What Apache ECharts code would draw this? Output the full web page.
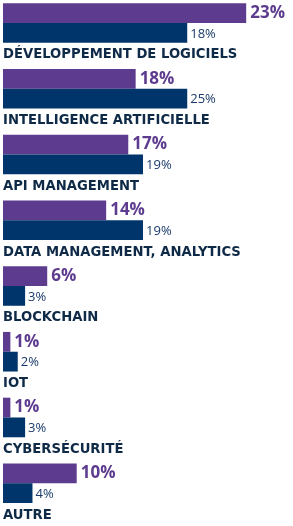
<!DOCTYPE html>
<html>
<head>
<meta charset="utf-8">
<script src="https://cdn.jsdelivr.net/npm/echarts@6/dist/echarts.min.js"></script>
<style>
html,body{margin:0;padding:0;background:#fff;}
#chart{width:293px;height:526px;}
</style>
</head>
<body>
<div id="chart"></div>
<script>
// Categories (top to bottom)
const categories = [
  "DÉVELOPPEMENT DE LOGICIELS",
  "INTELLIGENCE ARTIFICIELLE",
  "API MANAGEMENT",
  "DATA MANAGEMENT, ANALYTICS",
  "BLOCKCHAIN",
  "IOT",
  "CYBERSÉCURITÉ",
  "AUTRE"
];
// Printed percentages
const purpleLabels = [23, 18, 17, 14, 6, 1, 1, 10];
const darkLabels   = [18, 25, 19, 19, 3, 2, 3, 4];
// Bar lengths as drawn in the picture (first group is drawn longer than its label)
const purpleBars = [33, 18, 17, 14, 6, 1, 1, 10];
const darkBars   = [25, 25, 19, 19, 3, 2, 3, 4];

const chart = echarts.init(document.getElementById('chart'), null, {renderer: 'canvas'});
chart.setOption({
  animation: false,
  backgroundColor: '#ffffff',
  grid: {left: 3, top: 0, width: 287.4, height: 530.4, containLabel: false},
  xAxis: {type: 'value', min: 0, max: 39, show: false},
  yAxis: {
    type: 'category', data: categories, inverse: true,
    axisLine: {show: false}, axisTick: {show: false}, splitLine: {show: false},
    axisLabel: {
      inside: true, margin: 0, align: 'left', interval: 0, hideOverlap: false,
      formatter: v => '{s|}\n{t|' + v + '}',
      rich: {
        s: {lineHeight: 44, height: 44},
        t: {fontFamily: 'DejaVu Sans', fontWeight: 'bold', fontSize: 13.2, color: '#0f2a47', lineHeight: 16}
      }
    }
  },
  series: [
    {
      type: 'bar', data: purpleBars, barWidth: 19.8, barGap: '0%',
      itemStyle: {color: '#5d3b8e'},
      label: {
        show: true, position: 'right', distance: 4,
        formatter: p => purpleLabels[p.dataIndex] + '%',
        fontFamily: 'Open Sans', fontWeight: 'bold', fontSize: 17, color: '#5d3b8e'
      }
    },
    {
      type: 'bar', data: darkBars, barWidth: 19.8, barGap: '0%',
      itemStyle: {color: '#00356b'},
      label: {
        show: true, position: 'right', distance: 3, offset: [0, 1],
        formatter: p => darkLabels[p.dataIndex] + '%',
        fontFamily: 'Open Sans', fontSize: 13, color: '#1a3a6b'
      }
    },
    {
      // empty spacer series: reserves the row where the category name sits
      type: 'bar', data: [], barWidth: 19.8, barGap: '0%', silent: true
    }
  ]
});
</script>
</body>
</html>
